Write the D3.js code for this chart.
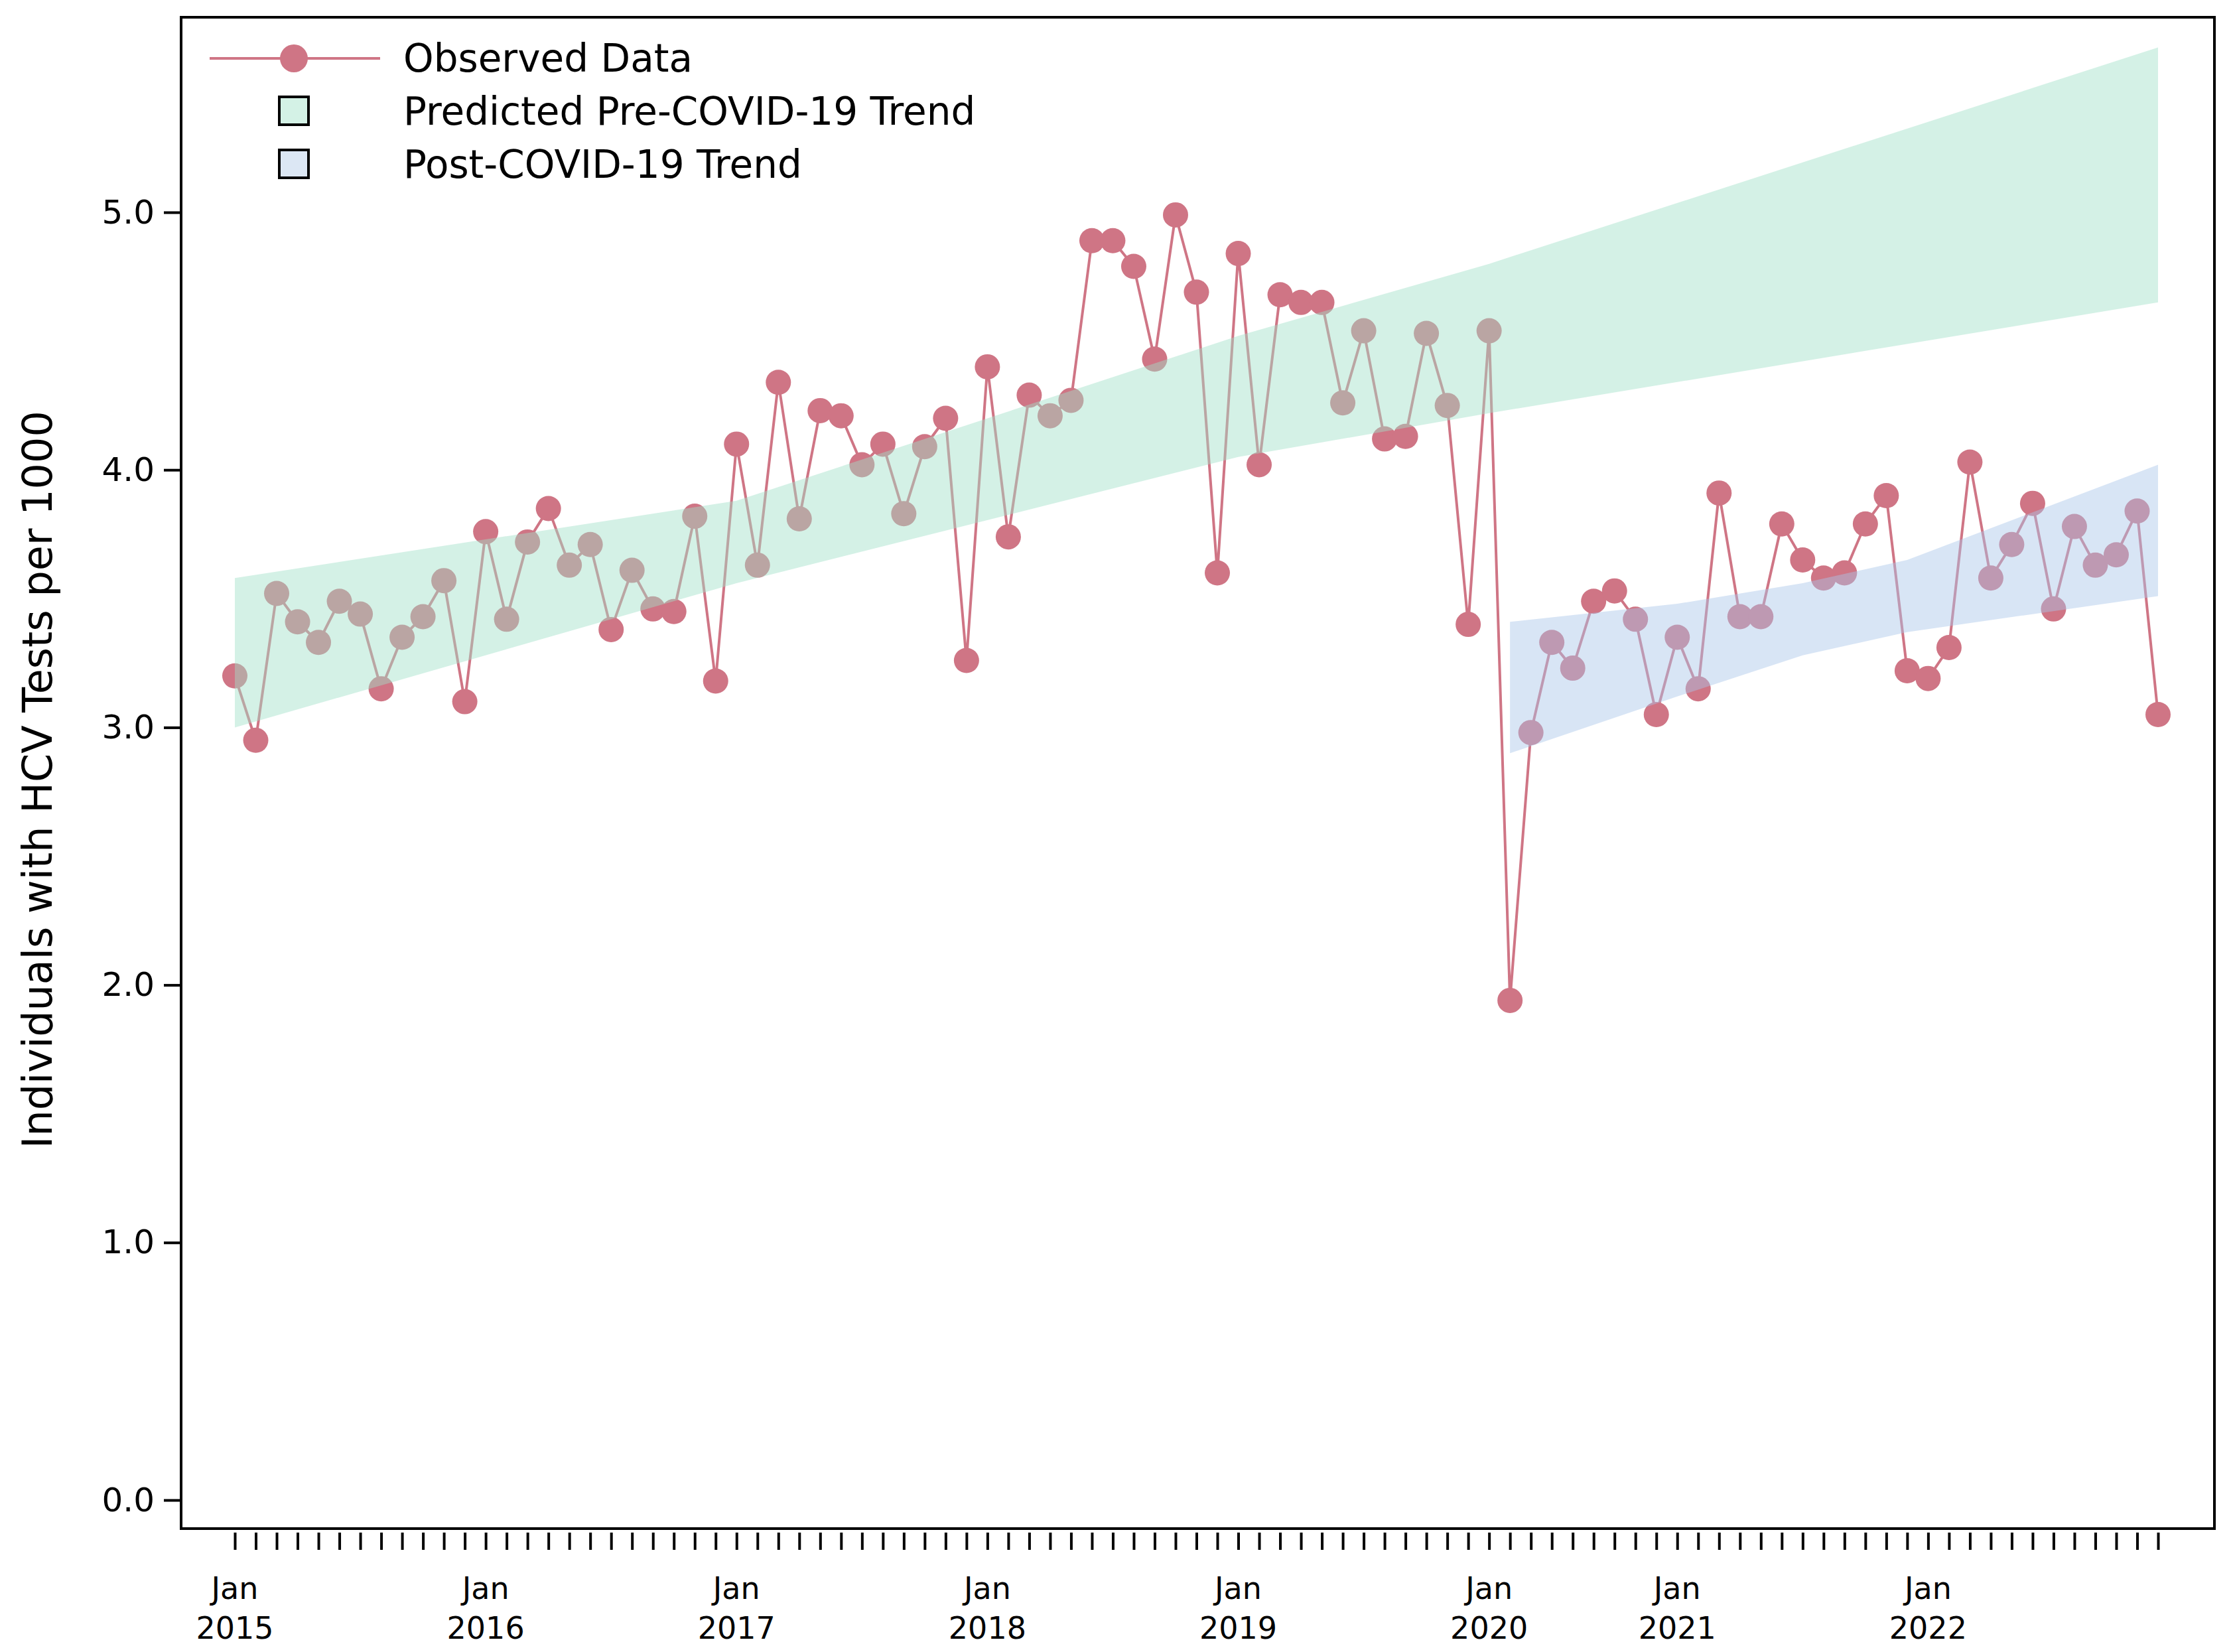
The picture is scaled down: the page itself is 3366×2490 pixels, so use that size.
<!DOCTYPE html>
<html><head><meta charset="utf-8">
<script src="https://cdn.jsdelivr.net/npm/d3@7"></script>
<style>body{margin:0;background:#fff}</style>
</head><body><div id="chart"></div>
<script>
// Observed monthly values (Apr-Jun 2020 absent from the series)
const observed = [3.20,2.95,3.52,3.41,3.33,3.49,3.44,3.15,3.35,3.43,3.57,3.10,
  3.76,3.42,3.72,3.85,3.63,3.71,3.38,3.61,3.46,3.45,3.82,3.18,
  4.10,3.63,4.34,3.81,4.23,4.21,4.02,4.10,3.83,4.09,4.20,3.26,
  4.40,3.74,4.29,4.21,4.27,4.89,4.89,4.79,4.43,4.99,4.69,3.60,
  4.84,4.02,4.68,4.65,4.65,4.26,4.54,4.12,4.13,4.53,4.25,3.40,
  4.54,1.94,2.98,3.33,3.23,3.49,3.53,3.42,3.05,
  3.35,3.15,3.91,3.43,3.43,3.79,3.65,3.58,3.60,3.79,3.90,3.22,
  3.19,3.31,4.03,3.58,3.71,3.87,3.46,3.78,3.63,3.67,3.84,3.05];
const preIdx = [0,24,48,60,92];
const preLow = [3.00,3.56,4.05,4.22,4.65];
const preHigh = [3.58,3.88,4.52,4.80,5.64];
const postIdx = [61,69,75,80,92];
const postLow = [2.90,3.12,3.28,3.37,3.51];
const postHigh = [3.41,3.48,3.56,3.65,4.02];
const tickIdx = [0,12,24,36,48,60,69,81];
const tickYears = ["2015","2016","2017","2018","2019","2020","2021","2022"];
const yTicks = [0,1,2,3,4,5];

const W = 3366, H = 2490;
const L = 273, R = 3338, T = 26, B = 2304;
const font = "DejaVu Sans";
const col = "#cf7585";

const svg = d3.select("#chart").append("svg").attr("width", W).attr("height", H)
  .style("font-family", font);

const x = d3.scaleLinear().domain([0, 92]).range([354, 3253]);
const y = d3.scaleLinear().domain([0, 5]).range([2261, 320]);

// Observed line + markers
svg.append("path").datum(observed)
  .attr("fill", "none").attr("stroke", col).attr("stroke-width", 4)
  .attr("d", d3.line().x((d, i) => x(i)).y(d => y(d)));
svg.selectAll("circle.obs").data(observed).enter().append("circle")
  .attr("class", "obs").attr("cx", (d, i) => x(i)).attr("cy", d => y(d))
  .attr("r", 19).attr("fill", col);

// Bands drawn over the points
const area = d3.area().x(d => x(d[0])).y0(d => y(d[1])).y1(d => y(d[2]));
svg.append("path").datum(preIdx.map((v, i) => [v, preLow[i], preHigh[i]]))
  .attr("d", area).attr("fill", "#9fe0c7").attr("opacity", 0.45);
svg.append("path").datum(postIdx.map((v, i) => [v, postLow[i], postHigh[i]]))
  .attr("d", area).attr("fill", "#a9c6e8").attr("opacity", 0.45);

// Frame
svg.append("rect").attr("x", L).attr("y", T).attr("width", R - L).attr("height", B - T)
  .attr("fill", "none").attr("stroke", "#000").attr("stroke-width", 4);

// Y axis
const ya = svg.append("g").attr("transform", `translate(${L},0)`)
  .call(d3.axisLeft(y).tickValues(yTicks).tickSize(26).tickPadding(14));
ya.select(".domain").remove();
ya.selectAll("line").attr("stroke-width", 4);
ya.selectAll("text").style("font-size", "50px").style("font-family", font);

// X axis: monthly ticks
const xa = svg.append("g").attr("transform", `translate(0,${B + 6})`)
  .call(d3.axisBottom(x).tickValues(d3.range(0, 93)).tickSize(26).tickFormat(""));
xa.select(".domain").remove();
xa.selectAll("line").attr("stroke-width", 4);
const lab = svg.append("g").selectAll("text").data(tickIdx).enter().append("text")
  .attr("x", d => x(d)).attr("text-anchor", "middle").style("font-size", "46px");
lab.append("tspan").attr("x", d => x(d)).attr("y", 2410).text("Jan");
lab.append("tspan").attr("x", d => x(d)).attr("y", 2470).text((d, i) => tickYears[i]);

// Y label
svg.append("text").attr("transform", `translate(78,${(T + B) / 2 + 10}) rotate(-90)`)
  .attr("text-anchor", "middle").style("font-size", "62px")
  .text("Individuals with HCV Tests per 1000");

// Legend
const lg = svg.append("g").style("font-size", "58px");
lg.append("line").attr("x1", 316).attr("x2", 573).attr("y1", 88).attr("y2", 88)
  .attr("stroke", col).attr("stroke-width", 4);
lg.append("circle").attr("cx", 443).attr("cy", 88).attr("r", 21).attr("fill", col);
lg.append("rect").attr("x", 421).attr("y", 146).attr("width", 44).attr("height", 42)
  .attr("fill", "#d4f2e6").attr("stroke", "#000").attr("stroke-width", 4);
lg.append("rect").attr("x", 421).attr("y", 226).attr("width", 44).attr("height", 42)
  .attr("fill", "#dce7f4").attr("stroke", "#000").attr("stroke-width", 4);
const names = ["Observed Data", "Predicted Pre-COVID-19 Trend", "Post-COVID-19 Trend"];
lg.selectAll("text").data(names).enter().append("text")
  .attr("x", 608).attr("y", (d, i) => 88 + i * 80 + 20).text(d => d);
</script></body></html>
